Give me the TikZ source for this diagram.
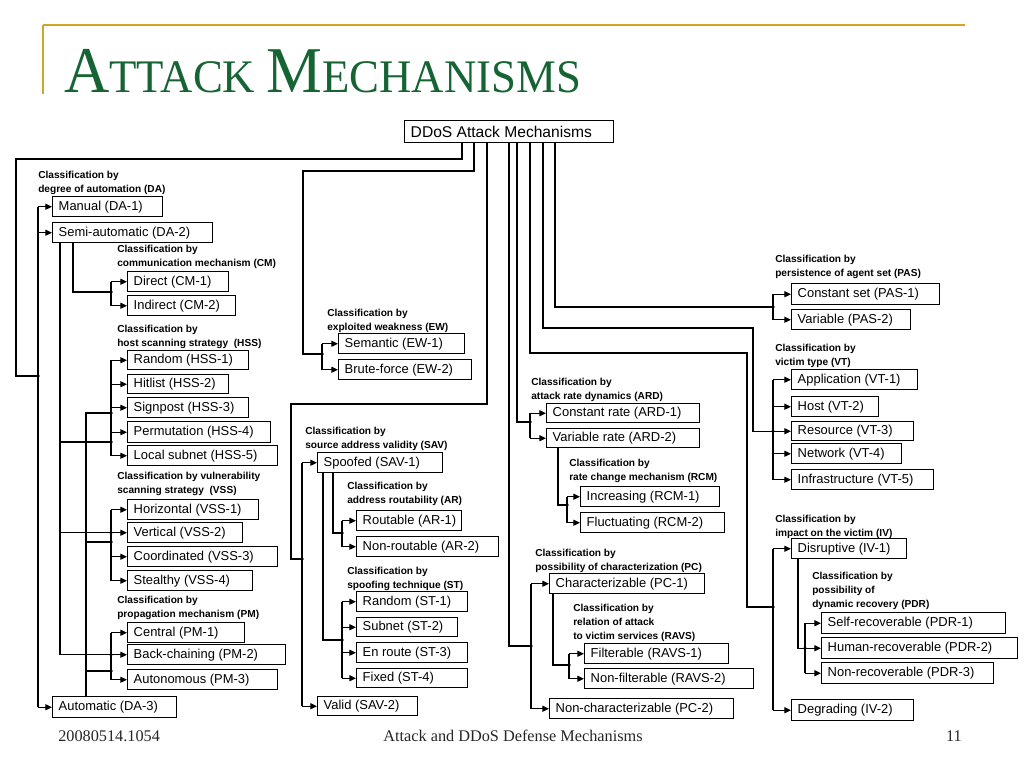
\documentclass[tikz,border=0pt]{standalone}
\usepackage{fontspec}
\setmainfont{Liberation Serif}
\newfontfamily\sansf{Liberation Sans}
\usetikzlibrary{arrows.meta,calc}
\definecolor{ttlgreen}{RGB}{22,100,52}
\definecolor{gold}{RGB}{212,165,32}
\newcommand\bx[6]{%
 \pgfmathsetmacro\bxw{0.75*(#4-#2)-9}%
 \pgfmathsetmacro\bxh{0.75*(#5-#3)}%
 \node[bx, minimum height=\bxh pt] (#1) at (#2,#3) {\makebox[\bxw pt][l]{#6}};}
\newcommand\lb[4]{\node[lab] (#1) at (#2,#3) {#4};}
\begin{document}
\begin{tikzpicture}[x=0.75pt,y=-0.75pt,
 bx/.style={draw, line width=1.1pt, rectangle, inner xsep=4.5pt, inner ysep=0pt, anchor=north west, font=\sansf\fontsize{9.7}{11}\selectfont},
 lab/.style={anchor=north west, inner sep=0pt, align=left, font=\sansf\bfseries\fontsize{7.6}{10.5}\selectfont},
 ln/.style={line width=0.95pt},
 arr/.style={ln,-{Triangle[length=5pt,width=4.5pt]}},
 jd/.style={circle, fill, inner sep=0pt, minimum size=2.8pt}]
\useasboundingbox (0,0) rectangle (1024,768);
% ---------- slide frame ----------
\draw[gold, line width=1.3pt] (43,25) -- (965,25);
\draw[gold, line width=1.2pt] (43,25) -- (43,94);
\node[anchor=base west, inner sep=0pt, text=ttlgreen] (title) at (64,92)
 {\scalebox{0.96}[1]{\fontsize{49}{49}\selectfont A\fontsize{35}{35}\selectfont TTACK \fontsize{49}{49}\selectfont M\fontsize{35}{35}\selectfont ECHANISMS}};
\node[anchor=base west, inner sep=0pt, font=\fontsize{12.2}{14}\selectfont, text=black!85] (date) at (58,741) {20080514.1054};
\node[anchor=base, inner sep=0pt, font=\fontsize{12.2}{14}\selectfont, text=black!85] (foot) at (513,741) {Attack and DDoS Defense Mechanisms};
\node[anchor=base east, inner sep=0pt, font=\fontsize{12.2}{14}\selectfont, text=black!85] (pg) at (962,741) {11};
% ---------- root ----------
\node[bx, font=\sansf\fontsize{11.7}{13}\selectfont, minimum height=16.5pt] (ddos) at (404,120) {\makebox[147.75pt][l]{DDoS Attack Mechanisms}};
% ---------- boxes ----------
\bx{da1}{52}{196}{162}{216}{Manual (DA-1)}
\bx{da2}{52}{222}{212}{242}{Semi-automatic (DA-2)}
\bx{da3}{52}{696}{176}{717}{Automatic (DA-3)}
\bx{cm1}{127}{271}{228}{291}{Direct (CM-1)}
\bx{cm2}{127}{295}{235}{315}{Indirect (CM-2)}
\bx{hss1}{127}{350}{248}{369}{Random (HSS-1)}
\bx{hss2}{127}{374}{228}{393}{Hitlist (HSS-2)}
\bx{hss3}{127}{397}{248}{417}{Signpost (HSS-3)}
\bx{hss4}{127}{421}{270}{442}{Permutation (HSS-4)}
\bx{hss5}{127}{445}{277}{465}{Local subnet (HSS-5)}
\bx{vss1}{127}{499}{258}{519}{Horizontal (VSS-1)}
\bx{vss2}{127}{522}{242}{542}{Vertical (VSS-2)}
\bx{vss3}{127}{546}{277}{566}{Coordinated (VSS-3)}
\bx{vss4}{127}{570}{252}{590}{Stealthy (VSS-4)}
\bx{pm1}{127}{622}{244}{642}{Central (PM-1)}
\bx{pm2}{127}{644}{285}{664}{Back-chaining (PM-2)}
\bx{pm3}{127}{669}{277}{689}{Autonomous (PM-3)}
\bx{ew1}{338}{333}{464}{353}{Semantic (EW-1)}
\bx{ew2}{338}{359}{471}{379}{Brute-force (EW-2)}
\bx{sav1}{317}{452}{442}{472}{Spoofed (SAV-1)}
\bx{sav2}{317}{696}{417}{715}{Valid (SAV-2)}
\bx{ar1}{356}{510}{461}{530}{Routable (AR-1)}
\bx{ar2}{356}{536}{498}{556}{Non-routable (AR-2)}
\bx{st1}{356}{591}{467}{611}{Random (ST-1)}
\bx{st2}{356}{617}{457}{636}{Subnet (ST-2)}
\bx{st3}{356}{642}{467}{662}{En route (ST-3)}
\bx{st4}{356}{668}{467}{687}{Fixed (ST-4)}
\bx{ard1}{546}{403}{699}{422}{Constant rate (ARD-1)}
\bx{ard2}{546}{428}{699}{447}{Variable rate (ARD-2)}
\bx{rcm1}{580}{486}{719}{506}{Increasing (RCM-1)}
\bx{rcm2}{580}{512}{724}{532}{Fluctuating (RCM-2)}
\bx{pc1}{549}{573}{704}{593}{Characterizable (PC-1)}
\bx{pc2}{549}{698}{733}{718}{Non-characterizable (PC-2)}
\bx{ravs1}{584}{643}{728}{663}{Filterable (RAVS-1)}
\bx{ravs2}{584}{668}{753}{688}{Non-filterable (RAVS-2)}
\bx{pas1}{791}{283}{939}{304}{Constant set (PAS-1)}
\bx{pas2}{791}{309}{910}{329}{Variable (PAS-2)}
\bx{vt1}{791}{369}{917}{389}{Application (VT-1)}
\bx{vt2}{791}{396}{878}{416}{Host (VT-2)}
\bx{vt3}{791}{421}{913}{440}{Resource (VT-3)}
\bx{vt4}{791}{443}{901}{463}{Network (VT-4)}
\bx{vt5}{791}{469}{933}{489}{Infrastructure (VT-5)}
\bx{iv1}{791}{538}{906}{558}{Disruptive (IV-1)}
\bx{iv2}{791}{699}{913}{720}{Degrading (IV-2)}
\bx{pdr1}{821}{612}{1005}{633}{Self-recoverable (PDR-1)}
\bx{pdr2}{821}{637}{1017}{658}{Human-recoverable (PDR-2)}
\bx{pdr3}{821}{662}{993}{683}{Non-recoverable (PDR-3)}
% ---------- labels ----------
\lb{lDA}{38}{171}{Classification by\\degree of automation (DA)}
\lb{lCM}{117}{245}{Classification by\\communication mechanism (CM)}
\lb{lHSS}{117}{325}{Classification by\\host scanning strategy\ \ (HSS)}
\lb{lVSS}{117}{472}{Classification by vulnerability\\scanning strategy\ \ (VSS)}
\lb{lPM}{117}{596}{Classification by\\propagation mechanism (PM)}
\lb{lEW}{327}{309}{Classification by\\exploited weakness (EW)}
\lb{lSAV}{305}{427}{Classification by\\source address validity (SAV)}
\lb{lAR}{347}{482}{Classification by\\address routability (AR)}
\lb{lST}{347}{567}{Classification by\\spoofing technique (ST)}
\lb{lARD}{531}{378}{Classification by\\attack rate dynamics (ARD)}
\lb{lRCM}{569}{459}{Classification by\\rate change mechanism (RCM)}
\lb{lPC}{535}{549}{Classification by\\possibility of characterization (PC)}
\lb{lRAVS}{573}{604}{Classification by\\relation of attack\\to victim services (RAVS)}
\lb{lPAS}{775}{255}{Classification by\\persistence of agent set (PAS)}
\lb{lVT}{775}{344}{Classification by\\victim type (VT)}
\lb{lIV}{775}{515}{Classification by\\impact on the victim (IV)}
\lb{lPDR}{812}{572}{Classification by\\possibility of\\dynamic recovery (PDR)}
% ---------- coordinates ----------
\coordinate (d1) at ($(ddos.south west)+(58,0)$);
\coordinate (d2) at ($(ddos.south west)+(70,0)$);
\coordinate (d3) at ($(ddos.south west)+(83,0)$);
\coordinate (d4) at ($(ddos.south west)+(105,0)$);
\coordinate (d5) at ($(ddos.south west)+(113,0)$);
\coordinate (d6) at ($(ddos.south west)+(126,0)$);
\coordinate (d7) at ($(ddos.south west)+(139,0)$);
\coordinate (d8) at ($(ddos.south west)+(151,0)$);
\coordinate (jDA) at (38,376);
\coordinate (jEW) at (322,354);
\coordinate (jSAV) at (302,559);
\coordinate (jPC) at (531,646);
\coordinate (jARD) at (530,422);
\coordinate (jIV) at (773,607);
\coordinate (jPAS) at (773,307);
\coordinate (tVT) at (773,0);
\coordinate (tL) at (111,0);
\coordinate (jCM) at (111,292);
\coordinate (jHSSa) at (111,442);
\coordinate (jHSSb) at (111,413);
\coordinate (jVSSb) at (111,542);
\coordinate (jPMb) at (111,671);
\coordinate (sa) at ($(da2.south west)+(8,0)$);
\coordinate (au) at ($(da3.north west)+(34,0)$);
\coordinate (jAR) at (342,533);
\coordinate (jST) at (342,640);
\coordinate (tS) at (342,0);
\coordinate (jRCM) at (567,505);
\coordinate (jRAVS) at (569,665);
\coordinate (tPDR) at (805,0);
% ---------- top-level connectors ----------
\draw[ln] (d1) |- (16,159) |- (jDA);
\draw[ln] (da1.west -| jDA) -- (da3.west -| jDA);
\foreach \n in {da1,da2,da3} \draw[arr] (\n.west -| jDA) -- (\n.west);
\draw[ln] (d2) |- (303,171) |- (jEW);
\draw[ln] (ew1.west -| jEW) -- (ew2.west -| jEW);
\foreach \n in {ew1,ew2} \draw[arr] (\n.west -| jEW) -- (\n.west);
\draw[ln] (d3) |- (291,404) |- (jSAV);
\draw[ln] (sav1.west -| jSAV) -- (sav2.west -| jSAV);
\foreach \n in {sav1,sav2} \draw[arr] (\n.west -| jSAV) -- (\n.west);
\draw[ln] (d4) |- (jPC);
\draw[ln] (pc1.west -| jPC) -- (pc2.west -| jPC);
\foreach \n in {pc1,pc2} \draw[arr] (\n.west -| jPC) -- (\n.west);
\draw[ln] (d5) |- (jARD);
\draw[ln] (ard1.west -| jARD) -- (ard2.west -| jARD);
\foreach \n in {ard1,ard2} \draw[arr] (\n.west -| jARD) -- (\n.west);
\draw[ln] (d6) |- (747,353) |- (jIV);
\draw[ln] (iv1.west -| jIV) -- (iv2.west -| jIV);
\foreach \n in {iv1,iv2} \draw[arr] (\n.west -| jIV) -- (\n.west);
\draw[arr] (d7) |- (753,328) |- (vt3.west);
\draw[ln] (vt1.west -| tVT) -- (vt5.west -| tVT);
\foreach \n in {vt1,vt2,vt4,vt5} \draw[arr] (\n.west -| tVT) -- (\n.west);
\draw[ln] (d8) |- (jPAS);
\draw[ln] (pas1.west -| jPAS) -- (pas2.west -| jPAS);
\foreach \n in {pas1,pas2} \draw[arr] (\n.west -| jPAS) -- (\n.west);
% ---------- left subtrees ----------
\draw[ln] ($(da2.south west)+(21,0)$) |- (jCM);
\draw[ln] (cm1.west -| tL) -- (cm2.west -| tL);
\foreach \n in {cm1,cm2} \draw[arr] (\n.west -| tL) -- (\n.west);
\draw[arr] (sa) |- (pm2.west);
\draw[ln] (sa |- jHSSa) -- (jHSSa);
\draw[arr] (sa |- vss2.west) -- (vss2.west);
\draw[ln] (au) -- (au |- jHSSb) -- (jHSSb);
\draw[ln] (au |- jVSSb) -- (jVSSb);
\draw[ln] (au |- jPMb) -- (jPMb);
\draw[ln] (hss1.west -| tL) -- (hss5.west -| tL);
\foreach \n in {hss1,hss2,hss3,hss4,hss5} \draw[arr] (\n.west -| tL) -- (\n.west);
\draw[ln] (vss1.west -| tL) -- (vss4.west -| tL);
\foreach \n in {vss1,vss3,vss4} \draw[arr] (\n.west -| tL) -- (\n.west);
\draw[ln] (pm1.west -| tL) -- (pm3.west -| tL);
\foreach \n in {pm1,pm3} \draw[arr] (\n.west -| tL) -- (\n.west);
% ---------- SAV subtrees ----------
\draw[ln] ($(sav1.south west)+(16,0)$) |- (jAR);
\draw[ln] (ar1.west -| tS) -- (ar2.west -| tS);
\foreach \n in {ar1,ar2} \draw[arr] (\n.west -| tS) -- (\n.west);
\draw[ln] ($(sav1.south west)+(6,0)$) |- (jST);
\draw[ln] (st1.west -| tS) -- (st4.west -| tS);
\foreach \n in {st1,st2,st3,st4} \draw[arr] (\n.west -| tS) -- (\n.west);
% ---------- ARD / PC subtrees ----------
\draw[ln] ($(ard2.south west)+(12,0)$) |- (jRCM);
\draw[ln] (rcm1.west -| jRCM) -- (rcm2.west -| jRCM);
\foreach \n in {rcm1,rcm2} \draw[arr] (\n.west -| jRCM) -- (\n.west);
\draw[ln] ($(pc1.south west)+(4,0)$) |- (jRAVS);
\draw[ln] (ravs1.west -| jRAVS) -- (ravs2.west -| jRAVS);
\foreach \n in {ravs1,ravs2} \draw[arr] (\n.west -| jRAVS) -- (\n.west);
% ---------- IV subtree ----------
\draw[arr] ($(iv1.south west)+(7,0)$) |- (pdr2.west);
\draw[ln] (pdr1.west -| tPDR) -- (pdr3.west -| tPDR);
\foreach \n in {pdr1,pdr3} \draw[arr] (\n.west -| tPDR) -- (\n.west);
% ---------- junction dots ----------
\foreach \c in {jDA,jEW,jSAV,jPC,jARD,jIV,jPAS,jCM,jHSSa,jHSSb,jVSSb,jPMb,jAR,jST,jRCM,jRAVS}
  \node[jd] at (\c) {};
\node[jd] (k1) at (vt3.west -| tVT) {};
\node[jd] (k2) at (vss2.west -| tL) {};
\node[jd] (k3) at (pm2.west -| tL) {};
\node[jd] (k4) at (pdr2.west -| tPDR) {};
\end{tikzpicture}
\end{document}
